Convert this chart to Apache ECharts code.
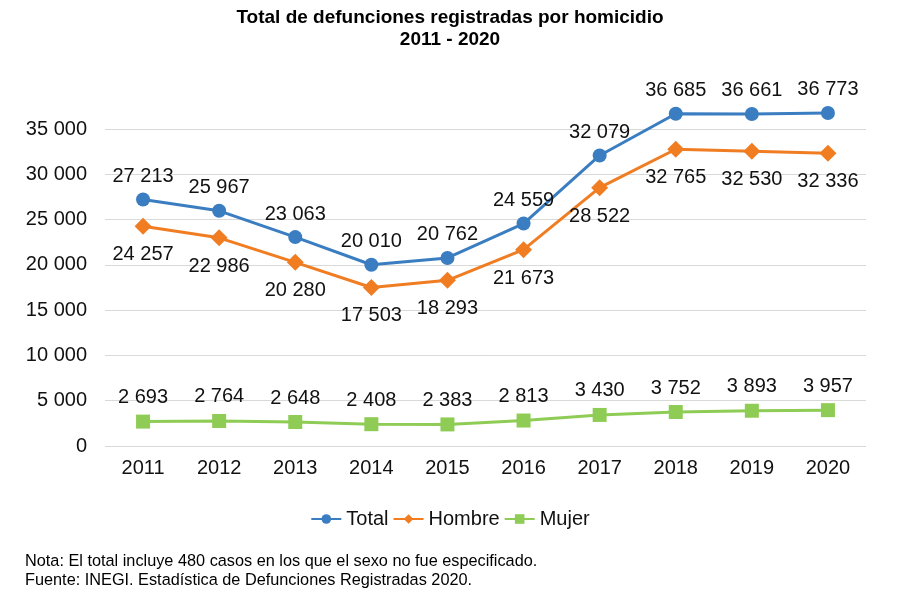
<!DOCTYPE html>
<html>
<head>
    <meta charset="UTF-8">
    <title></title>
    <script type="text/javascript" src="https://cdn.jsdelivr.net/npm/echarts@6/dist/echarts.min.js"></script>
    <style type="text/css">
        body { margin: 0; background: #fff; }
        #chart { width: 900px; height: 600px; }
    </style>
</head>
<body>
<div id="chart"></div>
<script type="text/javascript">
    var years = ['2011', '2012', '2013', '2014', '2015', '2016', '2017', '2018', '2019', '2020'];
    var total = [27213, 25967, 23063, 20010, 20762, 24559, 32079, 36685, 36661, 36773];
    var hombre = [24257, 22986, 20280, 17503, 18293, 21673, 28522, 32765, 32530, 32336];
    var mujer = [2693, 2764, 2648, 2408, 2383, 2813, 3430, 3752, 3893, 3957];

    // separador de miles con espacio
    function fmt(v) {
        return String(v).replace(/\B(?=(\d{3})+(?!\d))/g, ' ');
    }

    var font = 'Arial, "Liberation Sans", sans-serif';
    var chart = echarts.init(document.getElementById('chart'));

    chart.setOption({
        animation: false,
        textStyle: { fontFamily: font },
        title: {
            text: 'Total de defunciones registradas por homicidio\n2011 - 2020',
            left: 'center',
            top: 2,
            textStyle: { fontSize: 19, fontWeight: 'bold', color: '#000', lineHeight: 22, fontFamily: font }
        },
        legend: {
            top: 504,
            left: 'center',
            itemWidth: 30,
            itemHeight: 12,
            itemGap: 4,
            textStyle: { fontSize: 20, color: '#111', fontFamily: font },
            data: ['Total', 'Hombre', 'Mujer']
        },
        grid: { left: 105, right: 34, top: 129, bottom: 154 },
        xAxis: {
            type: 'category',
            data: years,
            axisLine: { show: false },
            axisTick: { show: false },
            axisLabel: { fontSize: 20, color: '#111', margin: 12 }
        },
        yAxis: {
            type: 'value',
            min: 0,
            max: 35000,
            interval: 5000,
            axisLabel: {
                fontSize: 20, color: '#111', margin: 18,
                formatter: function (v) { return fmt(v); }
            },
            splitLine: { lineStyle: { color: '#d9d9d9' } }
        },
        series: [
            {
                name: 'Total', type: 'line', data: total, clip: false,
                symbol: 'circle', symbolSize: 14,
                lineStyle: { width: 3, color: '#3a7dc0' },
                itemStyle: { color: '#3a7dc0' },
                label: { show: true, position: 'top', distance: 6, fontSize: 20, color: '#111', formatter: function (p) { return fmt(p.value); } }
            },
            {
                name: 'Hombre', type: 'line', data: hombre, clip: false,
                symbol: 'diamond', symbolSize: 17,
                lineStyle: { width: 3, color: '#f07d22' },
                itemStyle: { color: '#f07d22' },
                label: { show: true, position: 'bottom', distance: 10, fontSize: 20, color: '#111', formatter: function (p) { return fmt(p.value); } }
            },
            {
                name: 'Mujer', type: 'line', data: mujer, clip: false,
                symbol: 'rect', symbolSize: 14,
                lineStyle: { width: 3, color: '#8fcc55' },
                itemStyle: { color: '#8fcc55' },
                label: { show: true, position: 'top', distance: 7, fontSize: 20, color: '#111', formatter: function (p) { return fmt(p.value); } }
            }
        ],
        graphic: [
            { type: 'text', left: 25, top: 554, style: { text: 'Nota: El total incluye 480 casos en los que el sexo no fue especificado.', font: '16.3px ' + font, fill: '#000' } },
            { type: 'text', left: 25, top: 573, style: { text: 'Fuente: INEGI. Estadística de Defunciones Registradas 2020.', font: '16.3px ' + font, fill: '#000' } }
        ]
    });
</script>
</body>
</html>
